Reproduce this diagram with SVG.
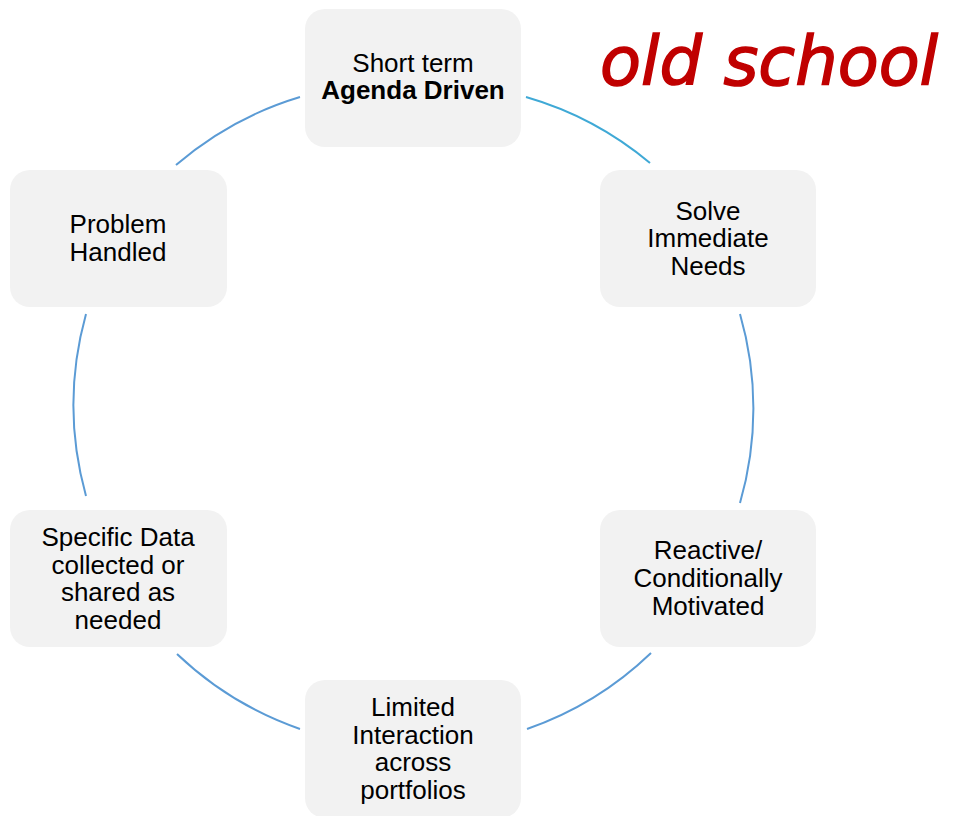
<svg xmlns="http://www.w3.org/2000/svg" width="956" height="816" viewBox="0 0 956 816">
<style>
.box{fill:#F2F2F2;}
.lbl{font-family:"Liberation Sans",Arial,sans-serif;font-size:26px;fill:#000;text-anchor:middle;}
.b{font-weight:bold;}
.arc{fill:none;stroke:#5B9BD5;stroke-width:2;}
.title{font-family:"DejaVu Sans","Liberation Sans",sans-serif;font-style:italic;font-size:67px;fill:#C00000;stroke:#C00000;stroke-width:1.5;}
</style>
<rect width="956" height="816" fill="#FFFFFF"/>
<g id="connectors">
<path class="arc" d="M300,97 A340,340 0 0 0 176,165"/>
<path class="arc" style="stroke:#3FA9D6" d="M526,97 A340,340 0 0 1 650,163"/>
<path class="arc" d="M740,314 A340,340 0 0 1 740,503"/>
<path class="arc" d="M651,653 A340,340 0 0 1 527,729"/>
<path class="arc" d="M300,729 A340,340 0 0 1 177,654"/>
<path class="arc" d="M86,496 A340,340 0 0 1 86,314"/>
</g>
<g id="node-top">
<rect class="box" x="305" y="9" width="216" height="138" rx="20"/>
<text class="lbl" x="413" y="72">Short term</text>
<text class="lbl b" x="413" y="99">Agenda Driven</text>
</g>
<g id="node-solve">
<rect class="box" x="600" y="170" width="216" height="137" rx="20"/>
<text class="lbl" x="708" y="220">Solve</text>
<text class="lbl" x="708" y="247">Immediate</text>
<text class="lbl" x="708" y="275">Needs</text>
</g>
<g id="node-reactive">
<rect class="box" x="600" y="510" width="216" height="137" rx="20"/>
<text class="lbl" x="708" y="559">Reactive/</text>
<text class="lbl" x="708" y="587">Conditionally</text>
<text class="lbl" x="708" y="615">Motivated</text>
</g>
<g id="node-limited">
<rect class="box" x="305" y="680" width="216" height="138" rx="20"/>
<text class="lbl" x="413" y="716">Limited</text>
<text class="lbl" x="413" y="744">Interaction</text>
<text class="lbl" x="413" y="771">across</text>
<text class="lbl" x="413" y="799">portfolios</text>
</g>
<g id="node-specific">
<rect class="box" x="10" y="510" width="217" height="137" rx="20"/>
<text class="lbl" x="118" y="546">Specific Data</text>
<text class="lbl" x="118" y="574">collected or</text>
<text class="lbl" x="118" y="601">shared as</text>
<text class="lbl" x="118" y="629">needed</text>
</g>
<g id="node-problem">
<rect class="box" x="10" y="170" width="217" height="137" rx="20"/>
<text class="lbl" x="118" y="233">Problem</text>
<text class="lbl" x="118" y="261">Handled</text>
</g>
<text class="title" x="600" y="85">old school</text>
</svg>
